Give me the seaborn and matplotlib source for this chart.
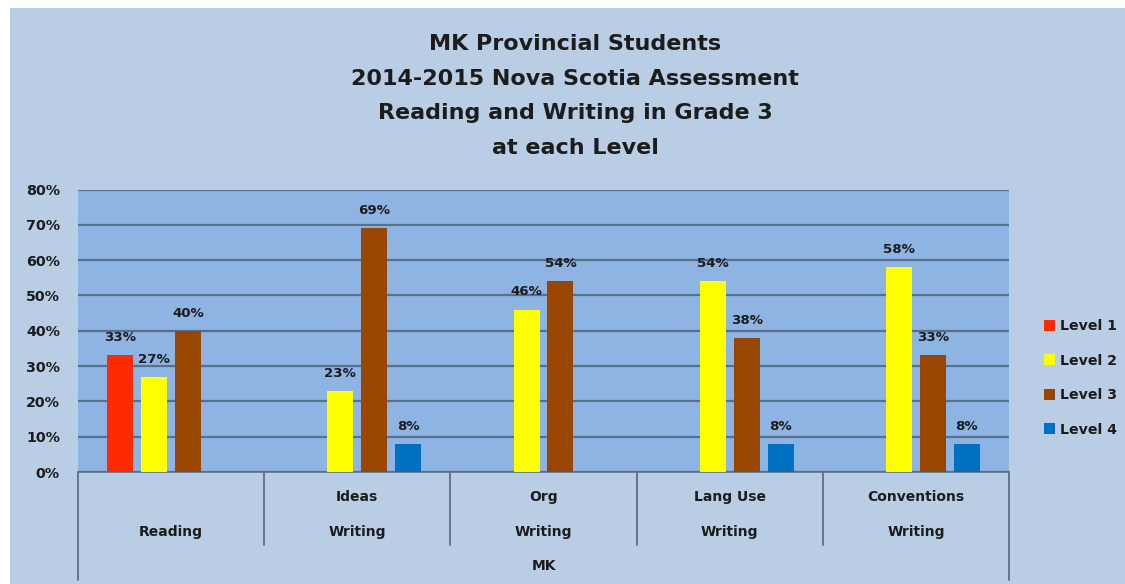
import numpy as np
import pandas as pd
import matplotlib
matplotlib.use("Agg")
import matplotlib.pyplot as plt
from matplotlib.patches import Rectangle
import seaborn as sns

# ---- data -------------------------------------------------------------
strands = ["", "Ideas", "Org", "Lang Use", "Conventions"]
subjects = ["Reading", "Writing", "Writing", "Writing", "Writing"]
school = "MK"
levels = ["Level 1", "Level 2", "Level 3", "Level 4"]
level1 = [33, np.nan, np.nan, np.nan, np.nan]
level2 = [27, 23, 46, 54, 58]
level3 = [40, 69, 54, 38, 33]
level4 = [np.nan, 8, np.nan, 8, 8]
yticks = [0, 10, 20, 30, 40, 50, 60, 70, 80]
title_lines = ["MK Provincial Students",
               "2014-2015 Nova Scotia Assessment",
               "Reading and Writing in Grade 3",
               "at each Level"]

level_colors = ["#FF2A00", "#FFFF00", "#994700", "#0070C0"]
outer_bg = "#B9CDE5"
plot_bg = "#8DB4E2"
grid_color = "#58708C"
text_color = "#1C1C1C"

# ---- long table for seaborn -------------------------------------------
keys = [f"{s}|{t}" for s, t in zip(subjects, strands)]
rows = []
for lvl, vals in zip(levels, [level1, level2, level3, level4]):
    for k, v in zip(keys, vals):
        if not np.isnan(v):
            rows.append({"group": k, "level": lvl, "pct": v})
df = pd.DataFrame(rows)

sns.set_theme(style="white")
plt.rcParams["font.family"] = ["DejaVu Sans"]
plt.rcParams["font.weight"] = "bold"

W, H = 1125, 584
fig = plt.figure(figsize=(W / 100, H / 100), dpi=100)
fig.patch.set_facecolor("white")
fig.patches.append(Rectangle((10 / W, 0), 1, 1 - 8 / H, transform=fig.transFigure,
                             facecolor=outer_bg, edgecolor="none", zorder=-10))

x0, x1, y_top, y_bot = 78, 1009, 189.5, 472
ax = fig.add_axes([x0 / W, (H - y_bot) / H, (x1 - x0) / W, (y_bot - y_top) / H])
ax.set_facecolor(plot_bg)

sns.barplot(data=df, x="group", y="pct", hue="level", order=keys, hue_order=levels,
            palette=level_colors, saturation=1, width=0.73, gap=0.235,
            errorbar=None, linewidth=0, ax=ax, zorder=3)

for cont in ax.containers:
    ax.bar_label(cont, fmt="{:.0f}%", padding=8, fontsize=9.6, fontweight="bold",
                 color=text_color)

ax.set_xlim(-0.5, len(keys) - 0.5)
ax.set_ylim(0, 80)
ax.set_yticks(yticks)
ax.set_yticklabels([f"{v}%" for v in yticks], fontsize=10.3, fontweight="bold",
                   color=text_color)
ax.tick_params(axis="y", length=0, pad=13)
ax.set_xticks([])
ax.set_xlabel("")
ax.set_ylabel("")
ax.yaxis.grid(True, color=grid_color, linewidth=1.6)
ax.set_axisbelow(True)
for side in ["left", "right", "top"]:
    ax.spines[side].set_visible(False)
ax.spines["bottom"].set_color(grid_color)
ax.spines["bottom"].set_linewidth(1.2)

# category box beneath the axis
tr = ax.get_xaxis_transform()
ph = y_bot - y_top
inner_end = -(545 - y_bot) / ph
outer_end = -(580 - y_bot) / ph
for b in np.arange(-0.5, len(keys), 1.0):
    end = outer_end if b in (-0.5, len(keys) - 0.5) else inner_end
    ax.plot([b, b], [0, end], transform=tr, clip_on=False, color="#5F6E80",
            linewidth=1.3)

row1 = -(497 - y_bot) / ph
row2 = -(532 - y_bot) / ph
row3 = -(566 - y_bot) / ph
for i, (s, t) in enumerate(zip(subjects, strands)):
    if t:
        ax.text(i, row1, t, transform=tr, ha="center", va="center", fontsize=10,
                fontweight="bold", color=text_color)
    ax.text(i, row2, s, transform=tr, ha="center", va="center", fontsize=10,
            fontweight="bold", color=text_color)
ax.text((len(keys) - 1) / 2, row3, school, transform=tr, ha="center", va="center",
        fontsize=10, fontweight="bold", color=text_color)

# legend
handles, labels = ax.get_legend_handles_labels()
ax.legend(handles, labels, loc="center left", bbox_to_anchor=(1031 / W, (H - 378) / H),
          bbox_transform=fig.transFigure, frameon=False, handlelength=0.8,
          handleheight=0.8, handletextpad=0.35, labelspacing=1.45,
          prop={"size": 10.2, "weight": "bold"}, labelcolor=text_color)

# title
for i, line in enumerate(title_lines):
    fig.text(575 / W, (H - (44 + 34.7 * i)) / H, line, ha="center", va="center",
             fontsize=16, fontweight="bold", color=text_color)

fig.savefig("out.png", dpi=100, facecolor=fig.get_facecolor())
